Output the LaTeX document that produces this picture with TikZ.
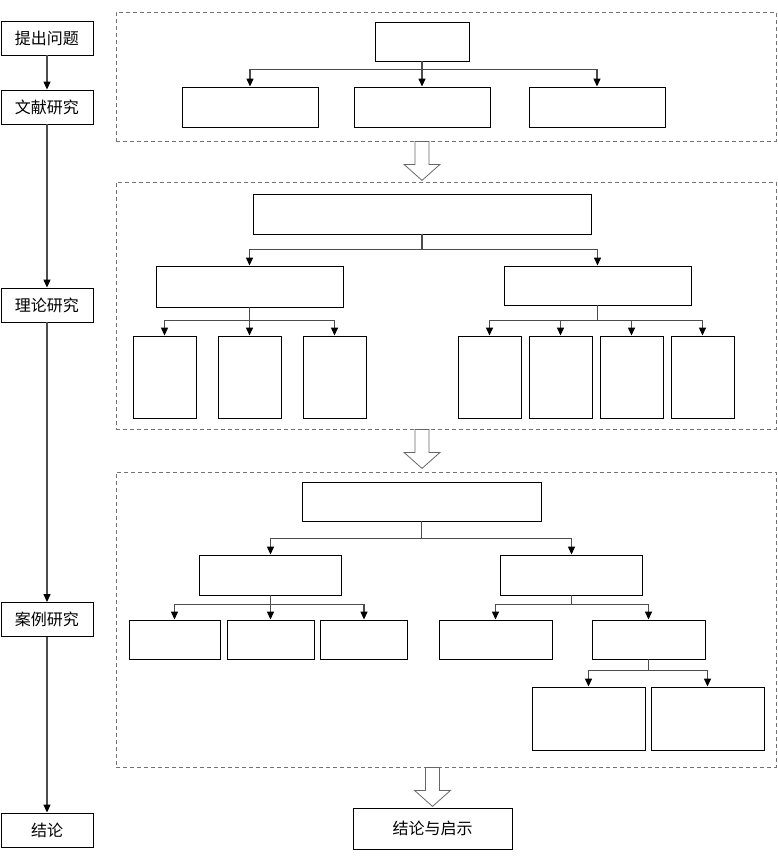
\documentclass[tikz,border=0pt]{standalone}
\usepackage{fontspec}
\newfontfamily\cjk{Noto Sans CJK SC}
\usetikzlibrary{arrows.meta}

\begin{document}
\begin{tikzpicture}[x=1pt,y=-1pt,>={Triangle[width=7pt,length=8pt,color=black]},
	box/.style={draw,line width=0.9pt,inner sep=0pt,font=\cjk\fontsize{16}{19}\selectfont},
	stage/.style={draw=black!55,dash pattern=on 4pt off 3pt,line width=0.8pt,inner sep=0pt,minimum width=660},
	link/.style={->,draw=black!70,line width=1.3pt},
	hollow/.style={draw=black!60,fill=white,line width=0.8pt}]
	\useasboundingbox (0,0) rectangle (778,863);
	% stages
	\node[stage,minimum height=129] (f1) at (446,76.5) {};
	\node[stage,minimum height=247] (f2) at (446,305.5) {};
	\node[stage,minimum height=295] (f3) at (446,619.5) {};
	% left column
	\node[box,minimum width=92,minimum height=34] (q) at (47,38) {提出问题};
	\node[box,minimum width=92,minimum height=34] (lit) at (47,107) {文献研究};
	\node[box,minimum width=92,minimum height=34] (theo) at (47,305) {理论研究};
	\node[box,minimum width=92,minimum height=34] (case) at (47,619.5) {案例研究};
	\node[box,minimum width=92,minimum height=34] (concl) at (47,830) {结论};
	\draw[link] (q.south) -- (lit.north);
	\draw[link] (lit.south) -- (theo.north);
	\draw[link] (theo.south) -- (case.north);
	\draw[link] (case.south) -- (concl.north);
	% stage 1
	\node[box,minimum width=94,minimum height=39] (t0) at (422,41.5) {};
	\node[box,minimum width=136,minimum height=40] (t1) at (250,107) {};
	\node[box,minimum width=136,minimum height=40] (t2) at (422,107) {};
	\node[box,minimum width=136,minimum height=40] (t3) at (597,107) {};
	\foreach \c in {t1,t2,t3} \draw[link] (t0.south) -- ++(0,8) -| (\c.north);
	% stage 2
	\node[box,minimum width=338,minimum height=40] (m0) at (422,214) {};
	\node[box,minimum width=187,minimum height=41] (m1) at (249.5,286.5) {};
	\node[box,minimum width=187,minimum height=39] (m2) at (597.5,285.5) {};
	\foreach \n/\x in {m11/164.5,m12/249.5,m13/334.5,m21/489.5,m22/560.5,m23/631.5,m24/702.5}
		\node[box,minimum width=63,minimum height=82] (\n) at (\x,377) {};
	\foreach \c in {m1,m2} \draw[link] (m0.south) -- ++(0,15) -| (\c.north);
	\foreach \c in {m11,m12,m13} \draw[link] (m1.south) -- ++(0,13) -| (\c.north);
	\foreach \c in {m21,m22,m23,m24} \draw[link] (m2.south) -- ++(0,15) -| (\c.north);
	% stage 3
	\node[box,minimum width=239,minimum height=39] (c0) at (421.5,501.5) {};
	\node[box,minimum width=142,minimum height=40] (c1) at (270.5,575) {};
	\node[box,minimum width=142,minimum height=40] (c2) at (571.5,575) {};
	\node[box,minimum width=91,minimum height=39] (c11) at (174.5,639.5) {};
	\node[box,minimum width=87,minimum height=39] (c12) at (270.5,639.5) {};
	\node[box,minimum width=87,minimum height=39] (c13) at (364,639.5) {};
	\node[box,minimum width=113,minimum height=39] (c21) at (495.5,639.5) {};
	\node[box,minimum width=113,minimum height=39] (c22) at (648.5,639.5) {};
	\node[box,minimum width=113,minimum height=63] (c221) at (588.5,718.5) {};
	\node[box,minimum width=113,minimum height=63] (c222) at (707.5,718.5) {};
	\foreach \c in {c1,c2} \draw[link] (c0.south) -- ++(0,17) -| (\c.north);
	\foreach \c in {c11,c12,c13} \draw[link] (c1.south) -- ++(0,9) -| (\c.north);
	\foreach \c in {c21,c22} \draw[link] (c2.south) -- ++(0,9) -| (\c.north);
	\foreach \c in {c221,c222} \draw[link] (c22.south) -- ++(0,11) -| (\c.north);
	% result
	\node[box,minimum width=159,minimum height=41] (res) at (432.5,828.5) {结论与启示};
	\coordinate (h1) at (f1.south -| t0.south);
	\coordinate (h2) at (f2.south -| m0.south);
	\coordinate (h3) at (f3.south -| res.north);
	\foreach \p in {h1,h2,h3}
		\draw[hollow] (\p) ++(-7,0) -- ++(14,0) -- ++(0,23) -- ++(11,0) -- ++(-18,16) -- ++(-18,-16) -- ++(11,0) -- cycle;
\end{tikzpicture}
\end{document}
